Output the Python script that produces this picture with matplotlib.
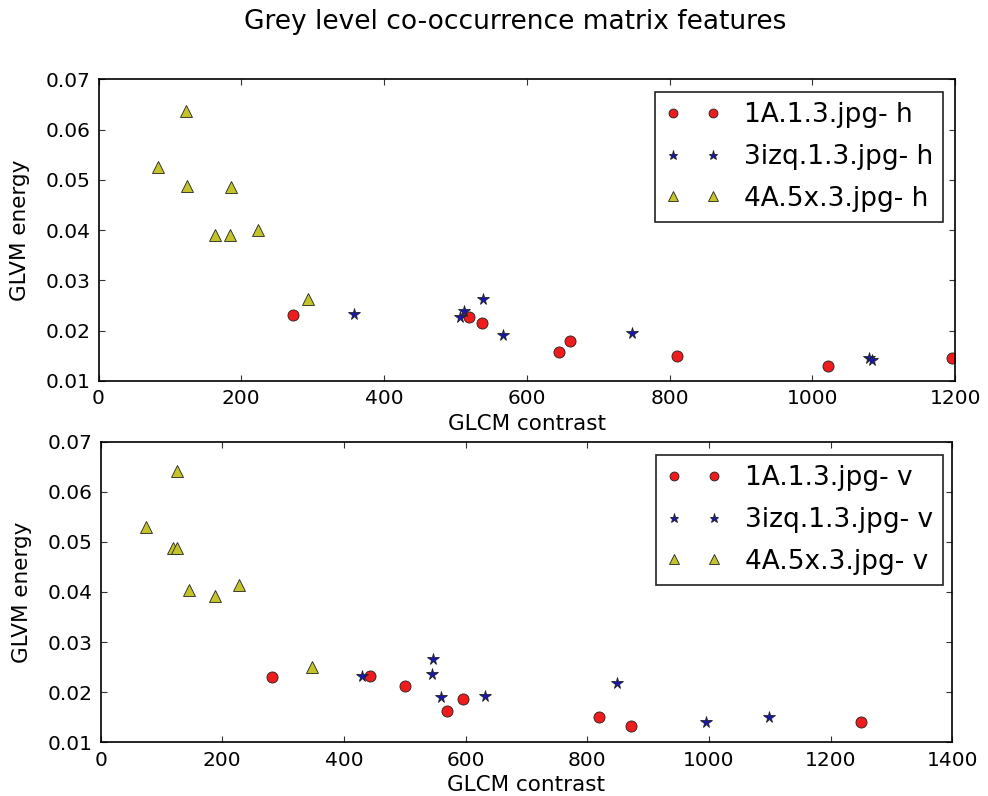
import matplotlib
matplotlib.use("Agg")
import matplotlib.pyplot as plt

# horizontal direction (top panel)
red_h_x = [273, 519, 537, 645, 661, 810, 1022, 1195]
red_h_y = [0.0231, 0.0228, 0.0215, 0.0158, 0.0180, 0.0149, 0.0129, 0.0145]
blue_h_x = [358, 506, 512, 538, 566, 747, 1080, 1083]
blue_h_y = [0.0233, 0.0228, 0.0240, 0.0263, 0.0191, 0.0196, 0.0145, 0.0142]
yel_h_x = [83, 122, 124, 163, 184, 186, 224, 293]
yel_h_y = [0.0526, 0.0636, 0.0488, 0.0391, 0.0390, 0.0485, 0.0401, 0.0264]

# vertical direction (bottom panel)
red_v_x = [281, 443, 501, 569, 596, 820, 872, 1250]
red_v_y = [0.0230, 0.0232, 0.0213, 0.0163, 0.0186, 0.0150, 0.0133, 0.0141]
blue_v_x = [429, 544, 546, 560, 632, 849, 996, 1099]
blue_v_y = [0.0232, 0.0236, 0.0266, 0.0191, 0.0193, 0.0219, 0.0141, 0.0150]
yel_v_x = [75, 119, 126, 126, 146, 188, 227, 347]
yel_v_y = [0.0530, 0.0488, 0.0488, 0.0642, 0.0403, 0.0391, 0.0414, 0.0250]

names = ["1A.1.3.jpg", "3izq.1.3.jpg", "4A.5x.3.jpg"]
yticks = [0.01, 0.02, 0.03, 0.04, 0.05, 0.06, 0.07]

fig = plt.figure(figsize=(9.88, 7.96), dpi=100)
fig.patch.set_facecolor("white")
fig.text(0.521, 0.972, "Grey level co-occurrence matrix features",
         ha="center", va="center", fontsize=19)

ax1 = fig.add_axes([0.0997, 0.5214, 0.867, 0.379])
ax2 = fig.add_axes([0.1018, 0.0675, 0.862, 0.3776])


def draw(ax, data, suffix, xmax, leg_anchor):
    styles = [("o", "#ee1c1c", 8), ("*", "#1818b0", 8.5), ("^", "#c4c42a", 8.5)]
    for (xs, ys), name, (m, c, ms) in zip(data, names, styles):
        ax.plot(xs, ys, linestyle="none", marker=m, color=c, markersize=ms,
                markeredgecolor="#222222", markeredgewidth=0.6,
                label=name + "- " + suffix)
    ax.set_xlim(0, xmax)
    ax.set_ylim(0.01, 0.07)
    ax.set_xticks(range(0, xmax + 1, 200))
    ax.set_yticks(yticks)
    ax.tick_params(direction="in", top=True, right=True, length=4,
                   labelsize=14.5, pad=6, color="#333333")
    for s in ax.spines.values():
        s.set_linewidth(1.2)
    ax.set_xlabel("GLCM contrast", fontsize=15.5)
    ax.set_ylabel("GLVM energy", fontsize=15.5)
    ax.xaxis.set_label_coords(0.5, -0.108)
    ax.yaxis.set_label_coords(-0.08, 0.5)
    leg = ax.legend(loc="upper right", bbox_to_anchor=leg_anchor,
                    borderaxespad=0, numpoints=2, fontsize=19, markerscale=0.8,
                    fancybox=False, handlelength=2.1, handletextpad=0.87,
                    labelspacing=0.6, borderpad=0.38, framealpha=1)
    leg.get_frame().set_edgecolor("#222222")
    leg.get_frame().set_linewidth(1.2)


draw(ax1, [(red_h_x, red_h_y), (blue_h_x, blue_h_y), (yel_h_x, yel_h_y)], "h", 1200,
     (0.986, 0.958))
draw(ax2, [(red_v_x, red_v_y), (blue_v_x, blue_v_y), (yel_v_x, yel_v_y)], "v", 1400,
     (0.989, 0.956))

fig.savefig("out.png", dpi=100, facecolor="white")
